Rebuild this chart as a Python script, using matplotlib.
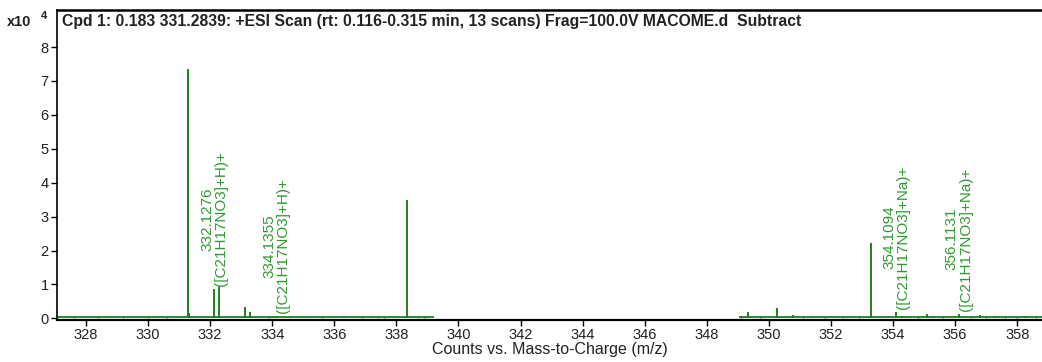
import matplotlib
matplotlib.use("Agg")
import matplotlib.pyplot as plt

plt.rcParams['font.family'] = ['Liberation Sans', 'DejaVu Sans']

# centroided peaks: m/z and abundance (x10^4 counts)
peak_mz = [331.28, 331.31, 332.1276, 332.29, 333.12, 333.28, 334.1355, 335.2,
           336.32, 337.2, 338.34, 339.0, 349.33, 350.26, 350.78, 351.4,
           353.28, 354.1094, 354.3, 355.1, 355.3, 356.1131, 356.8, 357.3,
           358.25]
peak_int = [7.35, 0.15, 0.86, 0.92, 0.32, 0.20, 0.07, 0.04,
            0.07, 0.05, 3.48, 0.04, 0.18, 0.30, 0.11, 0.05,
            2.22, 0.20, 0.06, 0.12, 0.07, 0.14, 0.10, 0.06,
            0.08]

# small baseline bumps
noise_mz = [327.6, 328.4, 329.2, 330.0, 330.6, 333.9, 335.6, 336.9, 337.4,
            337.6, 338.7, 338.9, 349.1, 349.7, 351.1, 351.8, 352.4, 352.9,
            354.8, 355.6, 356.5, 357.0, 357.6, 358.0, 358.6]
noise_int = [0.05, 0.04, 0.06, 0.05, 0.04, 0.05, 0.05, 0.04, 0.06,
             0.05, 0.06, 0.05, 0.06, 0.06, 0.06, 0.05, 0.05, 0.06,
             0.06, 0.06, 0.05, 0.07, 0.06, 0.05, 0.07]

# ranges covered by the scan (baseline noise floor)
scan_start = [327.05, 349.05]
scan_end = [339.2, 358.8]
noise_floor = 0.03

# annotated ions
label_mz = [332.1276, 334.1355, 354.1094, 356.1131]
label_h = [0.86, 0.07, 0.20, 0.14]
label_txt = ["332.1276\n([C21H17NO3]+H)+", "334.1355\n([C21H17NO3]+H)+",
             "354.1094\n([C21H17NO3]+Na)+", "356.1131\n([C21H17NO3]+Na)+"]

x_ticks = list(range(328, 359, 2))
y_ticks = list(range(0, 9))

title = ("Cpd 1: 0.183 331.2839: +ESI Scan (rt: 0.116-0.315 min, 13 scans) "
         "Frag=100.0V MACOME.d  Subtract")

fig = plt.figure(figsize=(10.42, 3.62), dpi=100)
ax = fig.add_axes([0.0547, 0.116, 0.9453, 0.857])

line_c = '#1f7f1f'
text_c = '#2f9a2f'

for s, e in zip(scan_start, scan_end):
    ax.hlines(noise_floor, s, e, color=line_c, lw=1.3)
ax.vlines(noise_mz, 0, noise_int, color=line_c, lw=1.0)
ax.vlines(peak_mz, 0, peak_int, color=line_c, lw=1.4)

for mz, h, t in zip(label_mz, label_h, label_txt):
    ax.text(mz, h + 0.08, t, rotation=90, ha='center', va='bottom',
            multialignment='center', color=text_c, fontsize=11,
            linespacing=1.0)

ax.set_xlim(327.066, 358.8)
ax.set_ylim(-0.05, 9.1)
ax.set_xticks(x_ticks)
ax.set_yticks(y_ticks)
ax.tick_params(direction='out', length=4, width=1, labelsize=10.5, pad=2,
               labelcolor='#222222')
ax.spines['right'].set_visible(False)
ax.spines['bottom'].set_linewidth(1.6)
ax.spines['left'].set_linewidth(1.2)
ax.spines['top'].set_linewidth(1.8)
ax.set_xlabel("Counts vs. Mass-to-Charge (m/z)", fontsize=11.5, labelpad=0,
              color='#222222')

ax.text(0.005, 0.985, title, transform=ax.transAxes, ha='left', va='top',
        fontsize=11.3, fontweight='bold', color='#222222')
fig.text(0.007, 0.938, "x10", fontsize=10.5, ha='left', va='center',
         fontweight='bold', color='#222222')
fig.text(0.039, 0.956, "4", fontsize=8, ha='left', va='center',
         fontweight='bold', color='#222222')

fig.savefig("out.png", dpi=100)
